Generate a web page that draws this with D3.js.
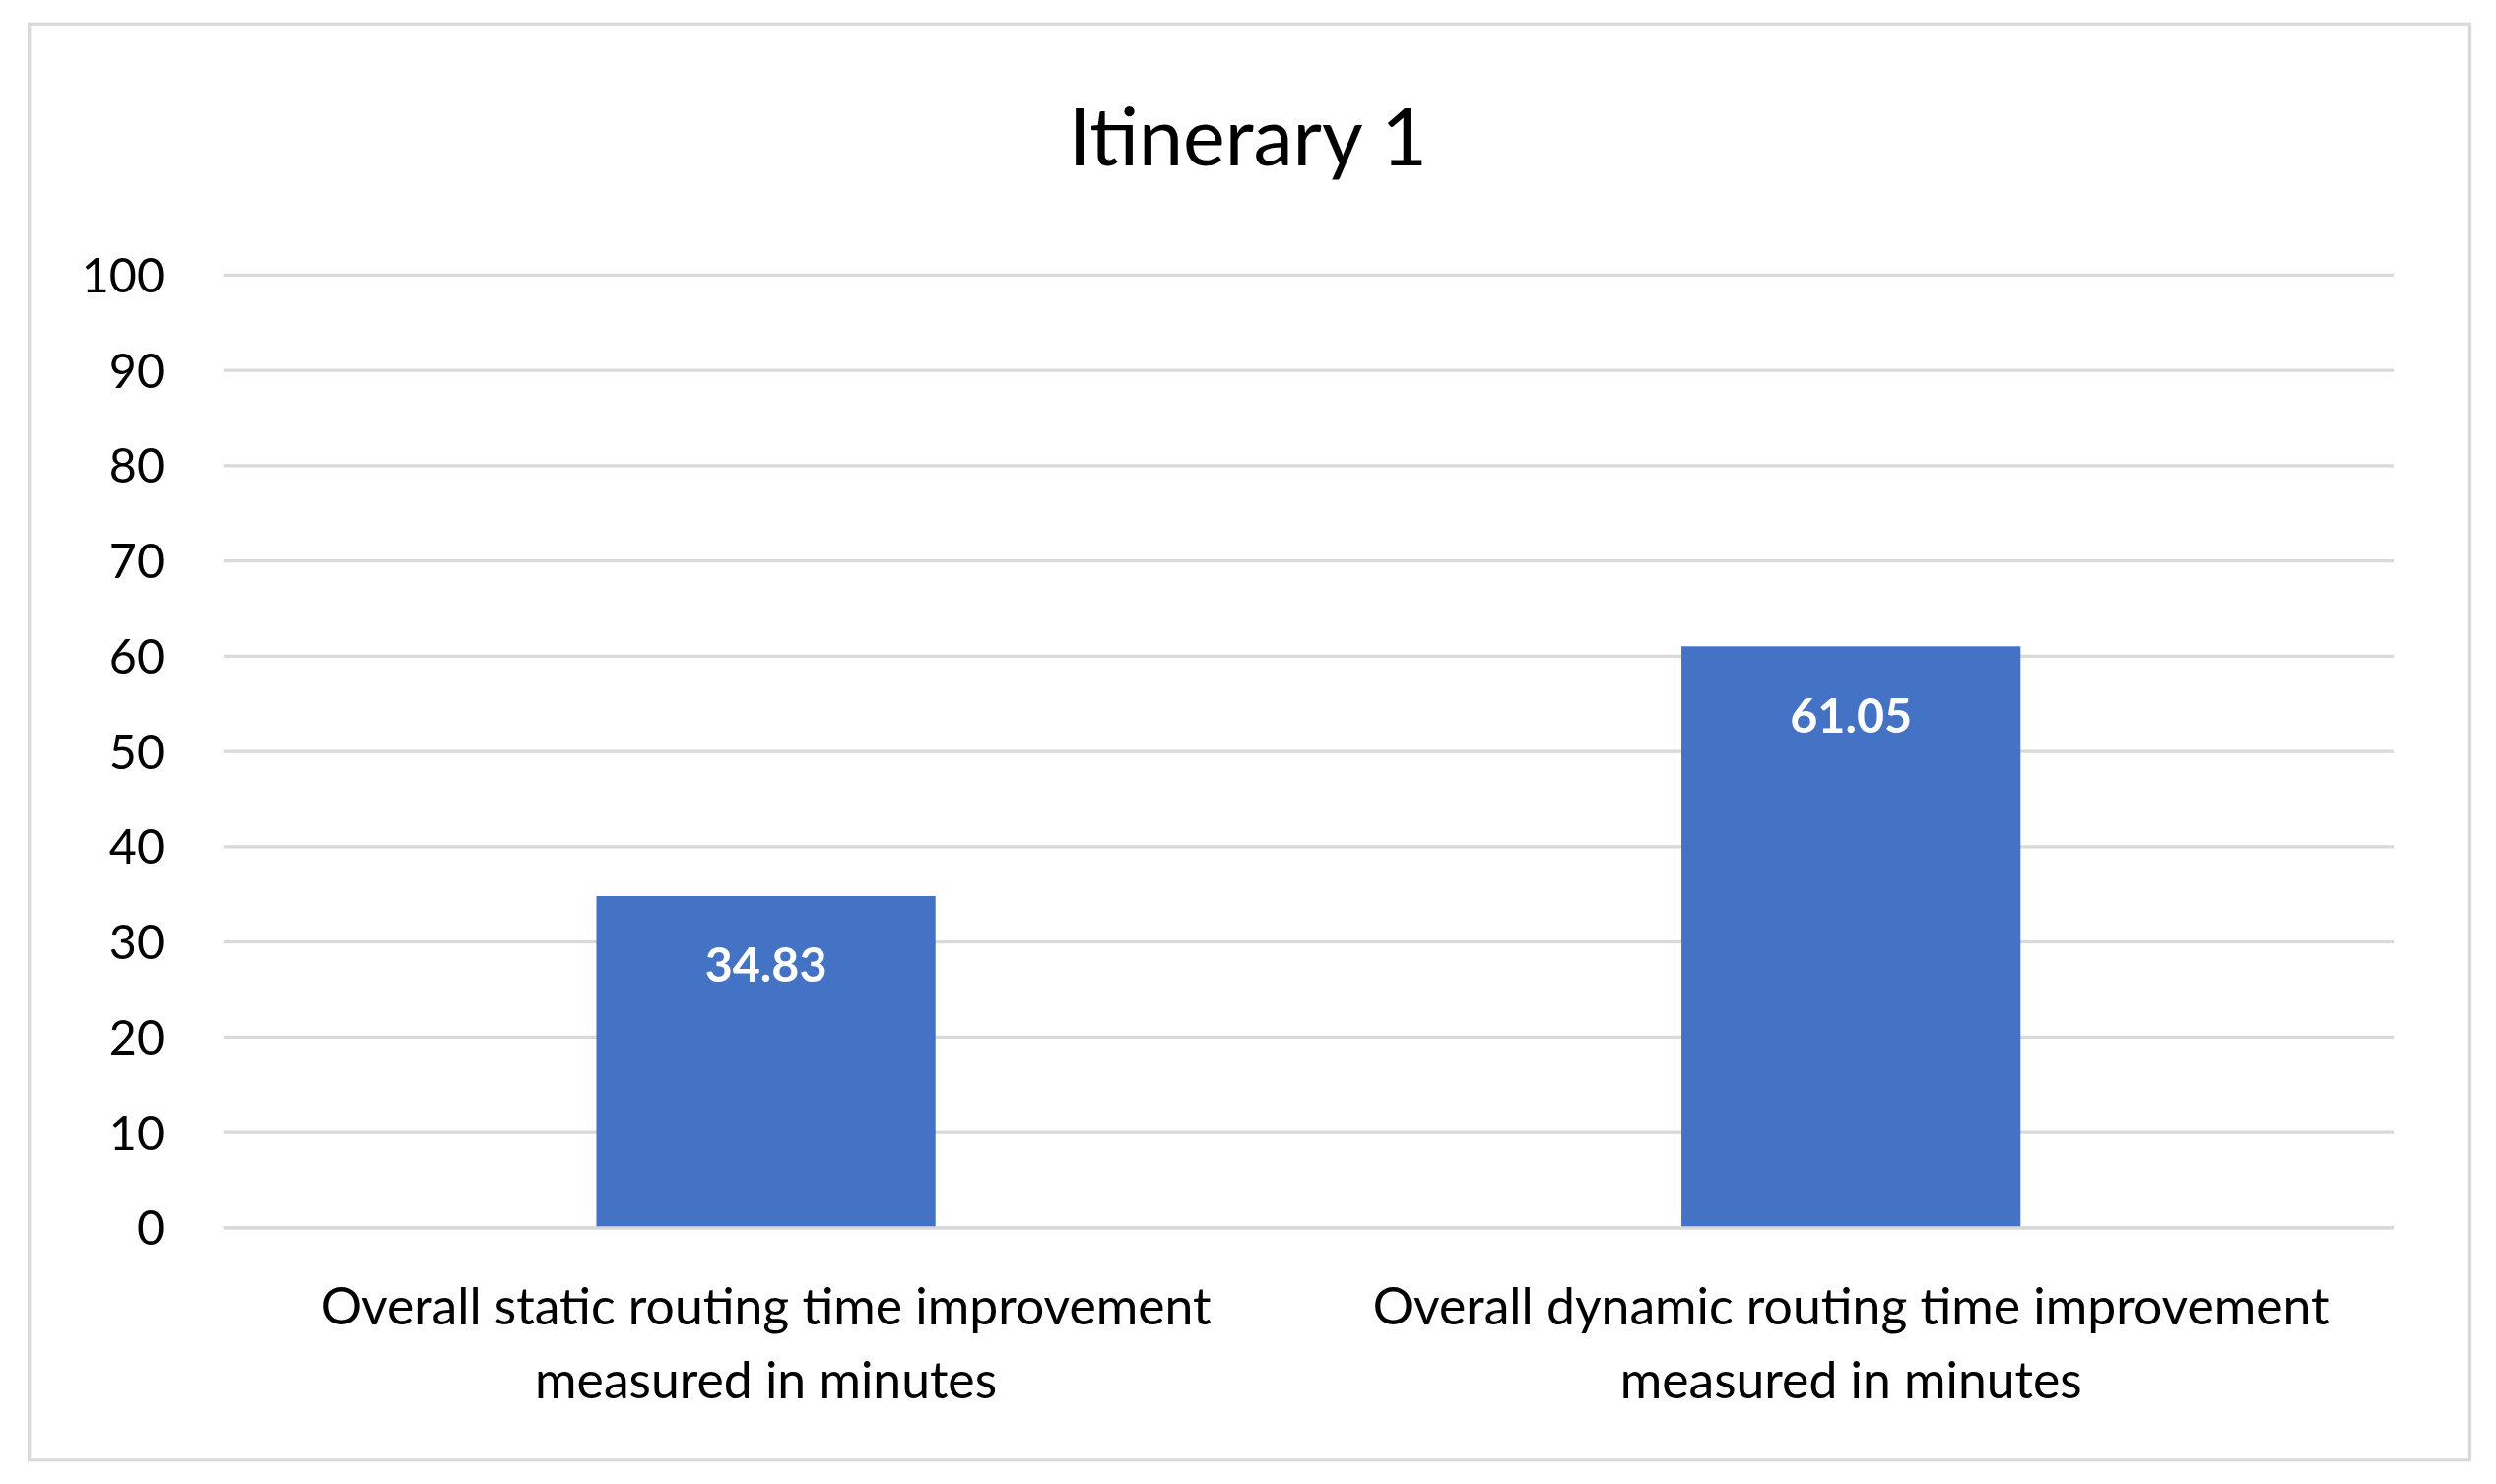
<!DOCTYPE html>
<html><head><meta charset="utf-8">
<script src="https://cdn.jsdelivr.net/npm/d3@7"></script>
<style>body{margin:0;background:#fff}svg{display:block}text{font-family:Lato,"Open Sans",sans-serif}</style>
</head><body>
<svg id="c" width="2534" height="1507" viewBox="0 0 1568 933"></svg>
<script>
const title = "Itinerary 1";
const categories = [
  ["Overall static routing time improvement", "measured in minutes"],
  ["Overall dynamic routing time improvement", "measured in minutes"]
];
const values = [34.83, 61.05];
const yTicks = [0,10,20,30,40,50,60,70,80,90,100];

const svg = d3.select("#c");
svg.append("rect").attr("x",18).attr("y",15).attr("width",1534).attr("height",903)
  .attr("fill","#fff").attr("stroke","#d9d9d9").attr("stroke-width",2);
const x = d3.scaleBand().domain(d3.range(values.length)).range([140,1504]).paddingInner(0.6875).paddingOuter(0.34375);
const y = d3.scaleLinear().domain([0,100]).range([772,173]);

svg.append("text").attr("x",784).attr("y",104).attr("text-anchor","middle")
  .attr("font-size",50).attr("fill","#000").text(title);

svg.append("g").selectAll("line").data(yTicks).join("line")
  .attr("x1",140).attr("x2",1504).attr("y1",d=>y(d)).attr("y2",d=>y(d))
  .attr("stroke","#d9d9d9").attr("stroke-width",2);
svg.append("g").selectAll("text").data(yTicks).join("text")
  .attr("x",103).attr("y",d=>y(d)).attr("dy","0.36em").attr("text-anchor","end")
  .attr("font-size",30).attr("fill","#000").text(d=>d);

svg.append("g").selectAll("rect").data(values).join("rect")
  .attr("x",(d,i)=>x(i)).attr("width",x.bandwidth())
  .attr("y",d=>y(d)).attr("height",d=>y(0)-y(d)).attr("fill","#4472c4");
svg.append("g").selectAll("text").data(values).join("text")
  .attr("x",(d,i)=>x(i)+x.bandwidth()/2).attr("y",d=>y(d)+54)
  .attr("text-anchor","middle").attr("font-size",30).attr("font-weight","bold")
  .attr("fill","#fff").text(d=>d.toFixed(2));

svg.append("line").attr("x1",140).attr("x2",1504).attr("y1",y(0)).attr("y2",y(0))
  .attr("stroke","#d9d9d9").attr("stroke-width",2);

const lab = svg.append("g").selectAll("text").data(categories).join("text")
  .attr("text-anchor","middle").attr("font-size",32).attr("fill","#000");
lab.each(function(lines,i){
  const t=d3.select(this);
  lines.forEach((l,j)=>t.append("tspan").attr("x",x(i)+x.bandwidth()/2).attr("y",833+j*46).text(l));
});
</script>
</body></html>
